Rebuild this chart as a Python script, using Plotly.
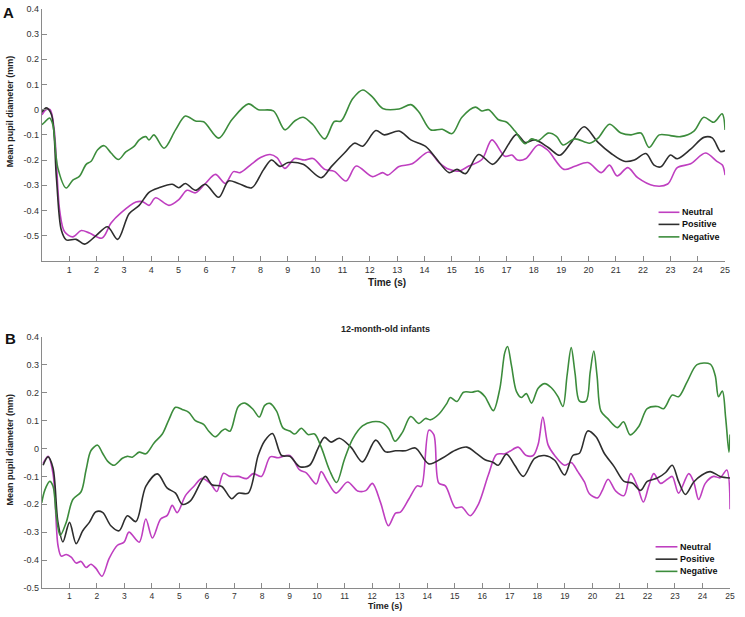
import plotly.graph_objects as go

# ---------------- Data ----------------
# Panel A
tA_neutral = [0, 0.15, 0.3, 0.45, 0.65, 0.83, 1.13, 1.44, 1.74, 2.2, 2.53, 2.89, 3.44, 3.68, 3.92, 4.16, 4.65, 5.01, 5.31, 5.62, 5.98, 6.35, 6.71, 7.01, 7.25, 7.68, 8.0, 8.35, 8.6, 8.89, 9.25, 9.6, 9.92, 10.35, 10.7, 11.13, 11.5, 12.1, 12.47, 12.65, 13.07, 13.55, 14.16, 14.53, 14.9, 15.25, 15.62, 16.1, 16.47, 16.94, 17.2, 17.4, 17.7, 18.16, 18.5, 19.1, 19.5, 19.98, 20.47, 20.77, 21.05, 21.44, 21.8, 22.4, 22.9, 23.25, 23.74, 24.28, 24.7, 24.9, 25.0]
vA_neutral = [-0.02, 0.0, 0.0, -0.08, -0.4, -0.485, -0.505, -0.48, -0.49, -0.51, -0.45, -0.41, -0.367, -0.365, -0.38, -0.35, -0.38, -0.357, -0.32, -0.33, -0.293, -0.257, -0.293, -0.246, -0.25, -0.215, -0.19, -0.178, -0.19, -0.233, -0.194, -0.2, -0.194, -0.237, -0.245, -0.283, -0.224, -0.266, -0.25, -0.26, -0.226, -0.215, -0.168, -0.21, -0.237, -0.244, -0.224, -0.198, -0.12, -0.185, -0.18, -0.2, -0.195, -0.14, -0.16, -0.237, -0.225, -0.21, -0.25, -0.22, -0.263, -0.23, -0.27, -0.302, -0.295, -0.23, -0.215, -0.172, -0.205, -0.22, -0.26]

tA_positive = [0, 0.16, 0.35, 0.53, 0.71, 0.89, 1.25, 1.56, 1.98, 2.4, 2.77, 3.19, 3.56, 3.92, 4.28, 4.77, 5.01, 5.25, 5.62, 5.98, 6.47, 6.83, 7.19, 7.68, 8.1, 8.4, 8.71, 9.01, 9.56, 10.22, 10.59, 11.07, 11.44, 11.74, 12.22, 12.53, 13.07, 13.5, 14.04, 14.4, 14.9, 15.19, 15.5, 15.98, 16.5, 16.83, 17.37, 17.68, 18.04, 18.53, 18.95, 19.37, 19.84, 20.35, 20.83, 21.31, 21.68, 22.1, 22.4, 22.65, 23.0, 23.25, 23.74, 24.22, 24.53, 24.83, 25.0]
vA_positive = [-0.01, 0.007, -0.02, -0.27, -0.478, -0.517, -0.515, -0.534, -0.5, -0.465, -0.515, -0.413, -0.38, -0.328, -0.31, -0.296, -0.31, -0.293, -0.32, -0.296, -0.348, -0.283, -0.293, -0.31, -0.24, -0.2, -0.225, -0.21, -0.217, -0.27, -0.226, -0.172, -0.133, -0.145, -0.083, -0.1, -0.085, -0.12, -0.146, -0.19, -0.25, -0.237, -0.254, -0.178, -0.217, -0.18, -0.098, -0.13, -0.12, -0.15, -0.181, -0.13, -0.068, -0.13, -0.174, -0.205, -0.2, -0.174, -0.22, -0.227, -0.18, -0.195, -0.157, -0.11, -0.112, -0.166, -0.162]

tA_negative = [0, 0.1, 0.28, 0.4, 0.58, 0.89, 1.13, 1.37, 1.62, 1.8, 2.04, 2.28, 2.53, 2.8, 3.07, 3.37, 3.56, 3.8, 3.92, 4.1, 4.47, 4.89, 5.25, 5.62, 5.92, 6.47, 6.95, 7.56, 7.92, 8.47, 8.89, 9.25, 9.56, 9.92, 10.35, 10.7, 10.95, 11.37, 11.74, 12.1, 12.47, 13.07, 13.5, 13.8, 14.22, 14.65, 15.01, 15.37, 15.86, 16.1, 16.35, 16.71, 17.01, 17.31, 17.68, 17.92, 18.16, 18.53, 18.83, 19.07, 19.5, 20.04, 20.35, 20.77, 21.19, 21.56, 21.92, 22.22, 22.59, 23.0, 23.37, 23.86, 24.22, 24.59, 24.89, 25.0]
vA_negative = [-0.06, -0.05, -0.033, -0.06, -0.23, -0.311, -0.28, -0.265, -0.217, -0.205, -0.159, -0.143, -0.172, -0.198, -0.168, -0.146, -0.12, -0.107, -0.12, -0.1, -0.153, -0.08, -0.025, -0.045, -0.048, -0.113, -0.04, 0.023, 0.0, -0.005, -0.08, -0.045, -0.03, -0.06, -0.116, -0.047, -0.045, 0.043, 0.078, 0.05, 0.005, 0.003, 0.02, -0.01, -0.08, -0.078, -0.095, -0.03, 0.01, -0.005, 0.0, -0.04, -0.05, -0.085, -0.135, -0.116, -0.123, -0.093, -0.106, -0.14, -0.116, -0.133, -0.113, -0.058, -0.093, -0.1, -0.093, -0.15, -0.1, -0.103, -0.107, -0.085, -0.03, -0.05, -0.016, -0.08]

# Panel B (12-month-old infants)
tB_neutral = [0.05, 0.23, 0.41, 0.59, 0.71, 0.89, 1.07, 1.25, 1.43, 1.61, 1.79, 1.97, 2.19, 2.45, 2.75, 2.99, 3.17, 3.54, 3.78, 4.02, 4.32, 4.56, 4.74, 4.92, 5.22, 5.52, 5.82, 6.12, 6.36, 6.6, 6.84, 7.14, 7.44, 7.68, 7.98, 8.3, 8.59, 9.01, 9.37, 9.61, 9.97, 10.15, 10.39, 10.69, 11.11, 11.47, 11.77, 12.01, 12.31, 12.59, 12.85, 13.03, 13.34, 13.64, 13.79, 14.06, 14.24, 14.42, 14.66, 15.02, 15.26, 15.56, 15.86, 16.22, 16.52, 16.82, 17.0, 17.3, 17.6, 17.85, 18.03, 18.2, 18.39, 18.63, 18.99, 19.23, 19.47, 19.71, 19.89, 20.19, 20.37, 20.57, 20.85, 21.15, 21.39, 21.63, 21.85, 22.05, 22.23, 22.48, 22.72, 22.9, 23.13, 23.5, 23.68, 23.86, 24.1, 24.4, 24.64, 24.88, 25.0]
vB_neutral = [-0.054, -0.028, -0.09, -0.347, -0.386, -0.38, -0.39, -0.411, -0.405, -0.427, -0.415, -0.43, -0.458, -0.394, -0.347, -0.336, -0.3, -0.336, -0.253, -0.321, -0.253, -0.24, -0.204, -0.23, -0.169, -0.136, -0.107, -0.125, -0.154, -0.089, -0.1, -0.1, -0.108, -0.09, -0.1, -0.03, -0.033, -0.025, -0.077, -0.087, -0.127, -0.083, -0.12, -0.16, -0.12, -0.152, -0.151, -0.125, -0.195, -0.277, -0.232, -0.228, -0.18, -0.134, -0.136, 0.066, 0.05, -0.124, -0.134, -0.212, -0.21, -0.241, -0.2, -0.095, -0.021, -0.019, -0.01, 0.005, -0.025, -0.025, 0.015, 0.113, 0.013, -0.025, -0.06, -0.05, -0.083, -0.12, -0.162, -0.177, -0.148, -0.11, -0.153, -0.169, -0.09, -0.134, -0.192, -0.134, -0.09, -0.125, -0.11, -0.1, -0.16, -0.09, -0.12, -0.183, -0.125, -0.1, -0.105, -0.077, -0.218]

tB_positive = [0.05, 0.23, 0.41, 0.59, 0.77, 1.01, 1.25, 1.49, 1.73, 1.97, 2.21, 2.51, 2.81, 3.11, 3.42, 3.78, 4.2, 4.56, 4.86, 5.1, 5.4, 5.94, 6.18, 6.54, 6.9, 7.14, 7.5, 7.86, 8.1, 8.38, 8.71, 9.01, 9.37, 9.73, 10.03, 10.27, 10.51, 10.81, 11.23, 11.65, 12.13, 12.49, 12.85, 13.21, 13.57, 14.06, 14.54, 15.02, 15.44, 15.8, 16.1, 16.4, 16.58, 16.88, 17.18, 17.49, 17.9, 18.27, 18.63, 18.99, 19.29, 19.53, 19.83, 20.13, 20.43, 20.79, 21.15, 21.45, 21.75, 21.99, 22.36, 22.66, 22.9, 23.13, 23.38, 23.68, 23.98, 24.28, 24.64, 25.0]
vB_positive = [-0.06, -0.03, -0.07, -0.265, -0.335, -0.265, -0.341, -0.295, -0.265, -0.227, -0.229, -0.277, -0.295, -0.241, -0.262, -0.136, -0.091, -0.142, -0.16, -0.2, -0.188, -0.1, -0.13, -0.136, -0.18, -0.16, -0.16, -0.025, 0.028, 0.054, -0.025, -0.028, -0.065, -0.06, 0.0, 0.04, 0.023, 0.037, 0.005, -0.048, 0.03, -0.012, -0.008, -0.008, 0.002, -0.055, -0.035, -0.006, 0.005, -0.018, -0.04, -0.05, -0.06, -0.02, -0.06, -0.1, -0.035, -0.025, -0.042, -0.095, -0.025, -0.017, 0.063, 0.042, -0.017, -0.065, -0.118, -0.124, -0.15, -0.118, -0.106, -0.086, -0.06, -0.118, -0.165, -0.12, -0.095, -0.083, -0.1, -0.106]

tB_negative = [0.0, 0.11, 0.29, 0.41, 0.53, 0.67, 0.89, 1.13, 1.43, 1.61, 1.79, 2.03, 2.21, 2.39, 2.63, 2.93, 3.11, 3.29, 3.54, 3.78, 4.08, 4.38, 4.62, 4.86, 5.1, 5.34, 5.58, 5.88, 6.06, 6.3, 6.54, 6.66, 6.84, 7.14, 7.38, 7.68, 7.9, 8.1, 8.29, 8.53, 8.77, 9.01, 9.19, 9.43, 9.67, 9.91, 10.15, 10.45, 10.71, 10.99, 11.29, 11.65, 12.01, 12.38, 12.62, 12.83, 13.1, 13.4, 13.7, 13.94, 14.12, 14.42, 14.72, 14.84, 15.08, 15.32, 15.62, 15.86, 16.1, 16.4, 16.64, 16.82, 16.92, 17.06, 17.24, 17.42, 17.6, 17.79, 18.03, 18.27, 18.51, 18.75, 18.93, 19.08, 19.23, 19.37, 19.53, 19.77, 19.92, 20.05, 20.17, 20.31, 20.55, 20.91, 21.13, 21.37, 21.69, 21.99, 22.36, 22.59, 22.9, 23.13, 23.44, 23.8, 24.28, 24.46, 24.58, 24.72, 24.84, 24.96, 25.0]
vB_negative = [-0.195, -0.15, -0.118, -0.135, -0.24, -0.312, -0.265, -0.183, -0.155, -0.077, -0.007, 0.012, -0.017, -0.045, -0.06, -0.035, -0.028, -0.031, -0.013, -0.019, 0.02, 0.052, 0.104, 0.148, 0.14, 0.13, 0.1, 0.087, 0.063, 0.042, 0.063, 0.07, 0.062, 0.151, 0.163, 0.14, 0.113, 0.155, 0.162, 0.134, 0.073, 0.063, 0.052, 0.073, 0.05, 0.052, 0.005, -0.077, -0.122, -0.04, 0.034, 0.081, 0.096, 0.092, 0.069, 0.026, 0.058, 0.115, 0.09, 0.108, 0.103, 0.123, 0.163, 0.183, 0.169, 0.202, 0.202, 0.206, 0.186, 0.136, 0.216, 0.345, 0.366, 0.298, 0.205, 0.183, 0.197, 0.163, 0.216, 0.233, 0.218, 0.186, 0.151, 0.262, 0.362, 0.27, 0.17, 0.17, 0.274, 0.35, 0.26, 0.134, 0.108, 0.075, 0.096, 0.049, 0.08, 0.143, 0.151, 0.143, 0.192, 0.186, 0.239, 0.301, 0.303, 0.262, 0.186, 0.206, 0.11, -0.013, 0.05]

series_names = ["Neutral", "Positive", "Negative"]
series_colors = ["#bf3fc0", "#2e2e2e", "#3c8c3c"]
x_ticks = list(range(1, 26))
yA_ticks = [-0.5, -0.4, -0.3, -0.2, -0.1, 0, 0.1, 0.2, 0.3, 0.4]
yB_ticks = [-0.5, -0.4, -0.3, -0.2, -0.1, 0, 0.1, 0.2, 0.3, 0.4]
yA_labels = ["-0.5", "-0.4", "-0.3", "-0.2", "-0.1", "0", "0.1", "0.2", "0.3", "0.4"]
yB_labels = yA_labels

# ---------------- Figure ----------------
W, H = 745, 617
FONT = "Liberation Sans, Arial, sans-serif"

fig = go.Figure()
panelA = [(tA_neutral, vA_neutral), (tA_positive, vA_positive), (tA_negative, vA_negative)]
panelB = [(tB_neutral, vB_neutral), (tB_positive, vB_positive), (tB_negative, vB_negative)]
for (t, v), name, col in zip(panelA, series_names, series_colors):
    fig.add_trace(go.Scatter(x=t, y=v, mode="lines", name=name, showlegend=False,
                             line=dict(color=col, width=1.6, shape="spline", smoothing=0.9),
                             xaxis="x", yaxis="y"))
for (t, v), name, col in zip(panelB, series_names, series_colors):
    fig.add_trace(go.Scatter(x=t, y=v, mode="lines", name=name, showlegend=False,
                             line=dict(color=col, width=1.6, shape="spline", smoothing=0.9),
                             xaxis="x2", yaxis="y2"))

def px(x):
    return x / W

def py(y):
    return 1 - y / H

def axis_style(size=9):
    return dict(showline=True, linecolor="#8a8a8a", linewidth=1, showgrid=False, zeroline=False,
                ticks="inside", ticklen=5, tickcolor="#8a8a8a", tickwidth=1,
                tickfont=dict(family=FONT, size=size, color="#333333"))

fig.update_layout(
    width=W, height=H, margin=dict(l=0, r=0, t=0, b=0),
    paper_bgcolor="white", plot_bgcolor="white", showlegend=False,
    xaxis=dict(domain=[px(42.2), px(730)], range=[0, 25], tickvals=x_ticks, anchor="y", **axis_style()),
    yaxis=dict(domain=[py(260), py(4)], range=[-0.6, 0.4], tickvals=yA_ticks, ticktext=yA_labels,
               anchor="x", **axis_style()),
    xaxis2=dict(domain=[px(42), px(735)], range=[0, 25], tickvals=x_ticks, anchor="y2", **axis_style(8.5)),
    yaxis2=dict(domain=[py(592.5), py(337.5)], range=[-0.5, 0.4], tickvals=yB_ticks, ticktext=yB_labels,
                anchor="x2", **axis_style()),
)

def ann(text, x, y, size, angle=0, color="#222222", yanchor="middle"):
    fig.add_annotation(text=text, x=px(x), y=py(y), xref="paper", yref="paper",
                       showarrow=False, textangle=angle, xanchor="center", yanchor=yanchor,
                       borderpad=0, font=dict(family=FONT, size=size, color=color))

ann("<b>A</b>", 9, 8, 15, color="#111111")
ann("<b>B</b>", 10.5, 339, 15, color="#111111")
ann("<b>Mean pupil diameter (mm)</b>", 10, 108, 9, angle=-90)
ann("<b>Mean pupil diameter (mm)</b>", 10, 452, 9, angle=-90)
ann("<b>Time (s)</b>", 390, 282, 10)
ann("<b>Time (s)</b>", 388, 617.5, 9, yanchor="bottom")
ann("<b>12-month-old infants</b>", 388, 329, 9)

# Manual legends (compact rows as in the reference)
def legend(x0, x1, xt, rows):
    for (name, col), yy in zip(zip(series_names, series_colors), rows):
        fig.add_shape(type="line", xref="paper", yref="paper", x0=px(x0), x1=px(x1), y0=py(yy), y1=py(yy),
                      line=dict(color=col, width=1.6))
        fig.add_annotation(text="<b>" + name + "</b>", x=px(xt), y=py(yy), xref="paper", yref="paper",
                           showarrow=False, xanchor="left", yanchor="middle", borderpad=0,
                           font=dict(family=FONT, size=9, color="#111111"))

legend(663, 684, 686, [210.7, 223, 235.7])
legend(660, 682, 684, [550.7, 563.3, 575.7])

fig.write_html("out.html")
